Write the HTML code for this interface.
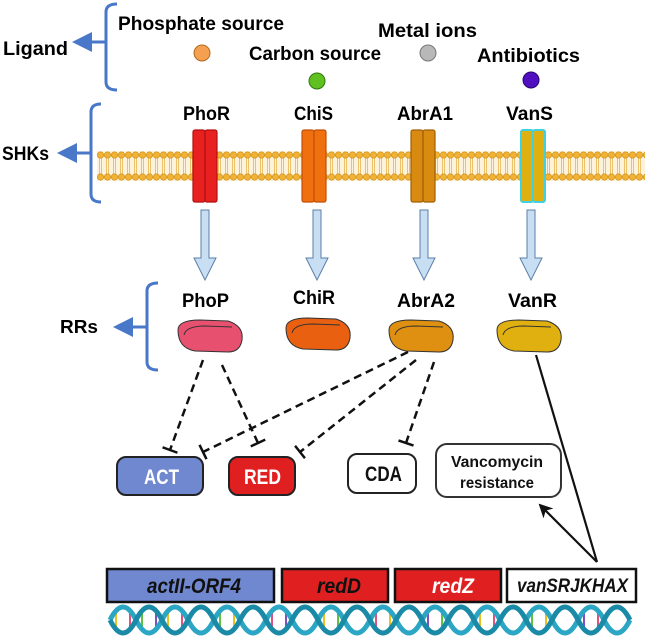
<!DOCTYPE html>
<html><head><meta charset="utf-8"><style>
html,body{margin:0;padding:0;background:#fff}
svg{display:block}
text{font-family:"Liberation Sans",sans-serif;font-weight:bold}
</style></head><body>
<svg width="645" height="637" viewBox="0 0 645 637" xmlns="http://www.w3.org/2000/svg">
<defs>
<pattern id="mem" x="97" y="0" width="7" height="637" patternUnits="userSpaceOnUse">
<line x1="2.5" y1="156" x2="2.5" y2="176" stroke="#e8b850" stroke-width="0.8"/>
<line x1="4.5" y1="156" x2="4.5" y2="176" stroke="#e8b850" stroke-width="0.8"/>
<circle cx="3.5" cy="155" r="3.2" fill="#f2b233" stroke="#c98a10" stroke-width="0.6"/>
<circle cx="3.5" cy="177" r="3.2" fill="#f2b233" stroke="#c98a10" stroke-width="0.6"/>
</pattern>
<marker id="tb" markerWidth="4" markerHeight="16" refX="2" refY="8" orient="auto" markerUnits="userSpaceOnUse">
<line x1="2" y1="0" x2="2" y2="16" stroke="#111" stroke-width="2.5"/>
</marker>
<marker id="ah" markerWidth="14" markerHeight="14" refX="12" refY="7" orient="auto" markerUnits="userSpaceOnUse">
<path d="M0,0 L14,7 L0,14 L4,7 Z" fill="#111"/>
</marker>
</defs>

<g stroke="#4a78c8" stroke-width="3" fill="none">
<path d="M117,4 Q106,4 106,12 L106,82 Q106,90 117,90"/>
<line x1="88" y1="42" x2="106" y2="42"/>
<path d="M101,104 Q91,104 91,112 L91,194 Q91,202 101,202"/>
<line x1="72" y1="153" x2="91" y2="153"/>
<path d="M158,283 Q147,283 147,291 L147,362 Q147,370 158,370"/>
<line x1="128" y1="327" x2="147" y2="327"/>
</g>
<g fill="#4a78c8">
<polygon points="72,42 92,32 92,52"/>
<polygon points="57,153 77,143 77,163"/>
<polygon points="113,327 133,317 133,337"/>
</g>
<g lengthAdjust="spacingAndGlyphs">
<text x="3" y="55" font-size="19" textLength="65" lengthAdjust="spacingAndGlyphs">Ligand</text>
<text x="2" y="160" font-size="19" textLength="47" lengthAdjust="spacingAndGlyphs">SHKs</text>
<text x="60" y="333" font-size="18" textLength="38" lengthAdjust="spacingAndGlyphs">RRs</text>
</g>

<g font-size="19">
<text x="118" y="30" textLength="166" lengthAdjust="spacingAndGlyphs">Phosphate source</text>
<text x="249" y="60" textLength="132" lengthAdjust="spacingAndGlyphs">Carbon source</text>
<text x="378" y="37" textLength="99" lengthAdjust="spacingAndGlyphs">Metal ions</text>
<text x="477" y="62" textLength="103" lengthAdjust="spacingAndGlyphs">Antibiotics</text>
</g>
<circle cx="202" cy="53" r="8" fill="#f4a050" stroke="#b06a20"/>
<circle cx="317" cy="81" r="8" fill="#60c020" stroke="#2d7a0a"/>
<circle cx="428" cy="53" r="8" fill="#b8b8b8" stroke="#777"/>
<circle cx="531" cy="80" r="8" fill="#5010c0" stroke="#2a0570"/>

<g font-size="19">
<text x="183" y="120" textLength="47" lengthAdjust="spacingAndGlyphs">PhoR</text>
<text x="294" y="120" textLength="39" lengthAdjust="spacingAndGlyphs">ChiS</text>
<text x="397" y="120" textLength="56" lengthAdjust="spacingAndGlyphs">AbrA1</text>
<text x="506" y="120" textLength="47" lengthAdjust="spacingAndGlyphs">VanS</text>
</g>

<rect x="97" y="151" width="548" height="30" fill="#fdf2dc"/>
<rect x="97" y="150" width="548" height="32" fill="url(#mem)"/>

<g stroke-width="1.2">
<rect x="193" y="130" width="12" height="72" rx="2" fill="#e82020" stroke="#b01010"/>
<rect x="205" y="130" width="12" height="72" rx="2" fill="#e82020" stroke="#b01010"/>
<rect x="302" y="130" width="12" height="72" rx="2" fill="#f07010" stroke="#c05008"/>
<rect x="314" y="130" width="12" height="72" rx="2" fill="#f07010" stroke="#c05008"/>
<rect x="411" y="130" width="12" height="72" rx="2" fill="#d98a10" stroke="#a06008"/>
<rect x="423" y="130" width="12" height="72" rx="2" fill="#d98a10" stroke="#a06008"/>
<rect x="521" y="130" width="12" height="72" rx="2" fill="#e0b010" stroke="#40d0e0" stroke-width="2"/>
<rect x="533" y="130" width="12" height="72" rx="2" fill="#e0b010" stroke="#40d0e0" stroke-width="2"/>
</g>

<g fill="#c8def2" stroke="#5a7fa8" stroke-width="1">
<path d="M201,210 L209,210 L209,258 L216,258 L205,280 L194,258 L201,258 Z"/>
<path d="M313,210 L321,210 L321,258 L328,258 L317,280 L306,258 L313,258 Z"/>
<path d="M420,210 L428,210 L428,258 L435,258 L424,280 L413,258 L420,258 Z"/>
<path d="M527,210 L535,210 L535,258 L542,258 L531,280 L520,258 L527,258 Z"/>
</g>

<g font-size="19">
<text x="182" y="307" textLength="47" lengthAdjust="spacingAndGlyphs">PhoP</text>
<text x="293" y="304" textLength="42" lengthAdjust="spacingAndGlyphs">ChiR</text>
<text x="397" y="307" textLength="58" lengthAdjust="spacingAndGlyphs">AbrA2</text>
<text x="508" y="307" textLength="49" lengthAdjust="spacingAndGlyphs">VanR</text>
</g>

<g stroke="#333" stroke-width="1">
<path d="M178,330 Q178,320 200,320 L228,321 Q244,326 242,340 Q240,352 228,352 L195,351 Q178,348 178,330 Z" fill="#e85070"/>
<path d="M184,335 Q186,326 205,326 L232,327" fill="none" stroke="#333"/>
<path d="M286,328 Q286,318 308,318 L336,319 Q352,324 350,338 Q348,350 336,350 L303,349 Q286,346 286,328 Z" fill="#e86010"/>
<path d="M292,333 Q294,324 313,324 L340,325" fill="none"/>
<path d="M389,330 Q389,320 411,320 L439,321 Q455,326 453,340 Q451,352 439,352 L406,351 Q389,348 389,330 Z" fill="#e09010"/>
<path d="M395,335 Q397,326 416,326 L443,327" fill="none"/>
<path d="M497,330 Q497,320 519,320 L547,321 Q563,326 561,340 Q559,352 547,352 L514,351 Q497,348 497,330 Z" fill="#e0b010"/>
<path d="M503,335 Q505,326 524,326 L551,327" fill="none"/>
</g>

<g stroke="#111" stroke-width="2.5" stroke-dasharray="8,5" fill="none">
<line x1="203" y1="360" x2="170" y2="450" marker-end="url(#tb)"/>
<line x1="222" y1="365" x2="258" y2="443" marker-end="url(#tb)"/>
<line x1="408" y1="352" x2="203" y2="452" marker-end="url(#tb)"/>
<line x1="416" y1="360" x2="300" y2="452" marker-end="url(#tb)"/>
<line x1="434" y1="362" x2="406" y2="443" marker-end="url(#tb)"/>
</g>

<rect x="117" y="457" width="86" height="38" rx="9" fill="#7088d0" stroke="#222" stroke-width="2"/>
<rect x="229" y="457" width="66" height="38" rx="9" fill="#e02020" stroke="#222" stroke-width="2"/>
<rect x="348" y="454" width="68" height="39" rx="9" fill="#fff" stroke="#222" stroke-width="2"/>
<rect x="436" y="444" width="125" height="53" rx="11" fill="#fff" stroke="#333" stroke-width="2"/>
<text x="144" y="484" font-size="21" fill="#fff" textLength="35" lengthAdjust="spacingAndGlyphs">ACT</text>
<text x="244" y="484" font-size="21" fill="#fff" textLength="37" lengthAdjust="spacingAndGlyphs">RED</text>
<text x="365" y="481" font-size="21" fill="#111" textLength="37" lengthAdjust="spacingAndGlyphs">CDA</text>
<text x="451" y="467" font-size="16" fill="#111" textLength="92" lengthAdjust="spacingAndGlyphs">Vancomycin</text>
<text x="460" y="488" font-size="16" fill="#111" textLength="74" lengthAdjust="spacingAndGlyphs">resistance</text>

<line x1="536" y1="355" x2="597" y2="562" stroke="#111" stroke-width="2.2"/>
<line x1="597" y1="562" x2="540" y2="505" stroke="#111" stroke-width="2.2" marker-end="url(#ah)"/>

<rect x="107" y="569" width="167" height="33" fill="#7088d0" stroke="#111" stroke-width="2.5"/>
<rect x="282" y="569" width="106" height="33" fill="#e02020" stroke="#111" stroke-width="2.5"/>
<rect x="395" y="569" width="106" height="33" fill="#e02020" stroke="#111" stroke-width="2.5"/>
<rect x="507" y="569" width="129" height="33" fill="#fff" stroke="#111" stroke-width="2.5"/>
<g font-style="italic">
<text x="147" y="593" font-size="21" fill="#111" textLength="94" lengthAdjust="spacingAndGlyphs">actII-ORF4</text>
<text x="317" y="593" font-size="21" fill="#111" textLength="44" lengthAdjust="spacingAndGlyphs">redD</text>
<text x="432" y="593" font-size="21" fill="#fff" textLength="42" lengthAdjust="spacingAndGlyphs">redZ</text>
<text x="517" y="592" font-size="19" fill="#111" textLength="111" lengthAdjust="spacingAndGlyphs">vanSRJKHAX</text>
</g>

<g stroke-width="2">
<line x1="116" y1="610" x2="116" y2="630" stroke="#e8c020"/>
<line x1="130" y1="610" x2="130" y2="630" stroke="#e05080"/>
<line x1="142" y1="610" x2="142" y2="630" stroke="#60c040"/>
<line x1="156" y1="610" x2="156" y2="630" stroke="#8050c0"/>
<line x1="168" y1="610" x2="168" y2="630" stroke="#e8c020"/>
<line x1="182" y1="610" x2="182" y2="630" stroke="#e05080"/>
<line x1="220" y1="610" x2="220" y2="630" stroke="#60c040"/>
<line x1="234" y1="610" x2="234" y2="630" stroke="#e8c020"/>
<line x1="272" y1="610" x2="272" y2="630" stroke="#e05080"/>
<line x1="286" y1="610" x2="286" y2="630" stroke="#8050c0"/>
<line x1="324" y1="610" x2="324" y2="630" stroke="#e8c020"/>
<line x1="338" y1="610" x2="338" y2="630" stroke="#60c040"/>
<line x1="376" y1="610" x2="376" y2="630" stroke="#e05080"/>
<line x1="390" y1="610" x2="390" y2="630" stroke="#e8c020"/>
<line x1="428" y1="610" x2="428" y2="630" stroke="#8050c0"/>
<line x1="442" y1="610" x2="442" y2="630" stroke="#60c040"/>
<line x1="480" y1="610" x2="480" y2="630" stroke="#e8c020"/>
<line x1="494" y1="610" x2="494" y2="630" stroke="#e05080"/>
<line x1="532" y1="610" x2="532" y2="630" stroke="#60c040"/>
<line x1="546" y1="610" x2="546" y2="630" stroke="#e8c020"/>
<line x1="584" y1="610" x2="584" y2="630" stroke="#8050c0"/>
<line x1="598" y1="610" x2="598" y2="630" stroke="#e05080"/>
</g>
<g fill="none" stroke-width="5">
<path d="M110,620 q13,-26 26,0 t26,0 t26,0 t26,0 t26,0 t26,0 t26,0 t26,0 t26,0 t26,0 t26,0 t26,0 t26,0 t26,0 t26,0 t26,0 t26,0 t26,0 t26,0 t26,0" stroke="#2ba6c4"/>
<path d="M110,620 q13,26 26,0 t26,0 t26,0 t26,0 t26,0 t26,0 t26,0 t26,0 t26,0 t26,0 t26,0 t26,0 t26,0 t26,0 t26,0 t26,0 t26,0 t26,0 t26,0 t26,0" stroke="#1a8aa6"/>
</g>
</svg>
</body></html>
